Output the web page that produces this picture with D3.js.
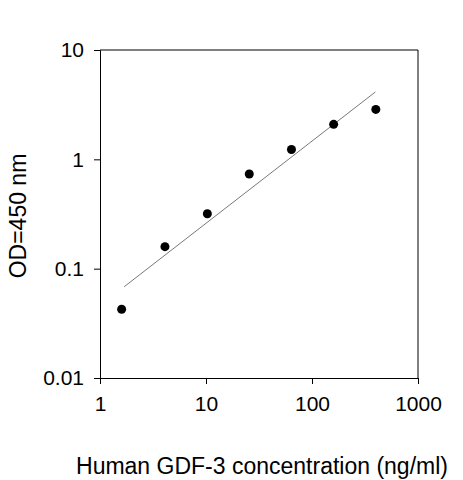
<!DOCTYPE html>
<html><head><meta charset="utf-8">
<script src="https://cdn.jsdelivr.net/npm/d3@7"></script>
<style>body{margin:0;background:#fff}text{font-family:"Liberation Sans",Arial,sans-serif}</style>
</head><body>
<svg width="463" height="480"></svg>
<script>
const conc = [1.6, 4.1, 10.3, 25.6, 64, 160, 400];
const od = [0.0425, 0.159, 0.318, 0.734, 1.23, 2.09, 2.86];
const fitX = [1.69, 396];
const fitY = [0.0683, 4.13];
const xTicks = [1, 10, 100, 1000];
const yTicks = [0.01, 0.1, 1, 10];

const svg = d3.select('svg');
const L = 100, R = 418, T = 50, B = 378;
const x = d3.scaleLog().domain([1, 1000]).range([L, R]);
const y = d3.scaleLog().domain([0.01, 10]).range([B, T]);

svg.append('g').attr('transform', `translate(0,${B})`)
  .call(d3.axisBottom(x).tickValues(xTicks).tickFormat(d3.format('~g')).tickSize(6).tickPadding(12))
  .call(g => g.selectAll('text').attr('font-size', 21).attr('fill', '#000'))
  .call(g => g.select('.domain').attr('stroke', '#000'));
svg.append('g').attr('transform', `translate(${L},0)`)
  .call(d3.axisLeft(y).tickValues(yTicks).tickFormat(d3.format('~g')).tickSize(6).tickPadding(10))
  .call(g => g.selectAll('text').attr('font-size', 21).attr('fill', '#000'))
  .call(g => g.select('.domain').attr('stroke', '#000'));
// top and right frame
svg.append('path').attr('d', `M${L},${T}H${R}V${B}`).attr('fill', 'none').attr('stroke', '#000');

svg.append('line')
  .attr('x1', x(fitX[0])).attr('y1', y(fitY[0]))
  .attr('x2', x(fitX[1])).attr('y2', y(fitY[1]))
  .attr('stroke', '#555').attr('stroke-width', 0.8);

svg.selectAll('circle').data(conc).enter().append('circle')
  .attr('cx', d => x(d)).attr('cy', (d, i) => y(od[i])).attr('r', 4.5).attr('fill', '#000');

svg.append('text').attr('x', 262).attr('y', 474).attr('text-anchor', 'middle')
  .attr('font-size', 23).text('Human GDF-3 concentration (ng/ml)');
svg.append('text').attr('transform', 'translate(26,216) rotate(-90)').attr('text-anchor', 'middle')
  .attr('font-size', 23).text('OD=450 nm');
</script>
</body></html>
